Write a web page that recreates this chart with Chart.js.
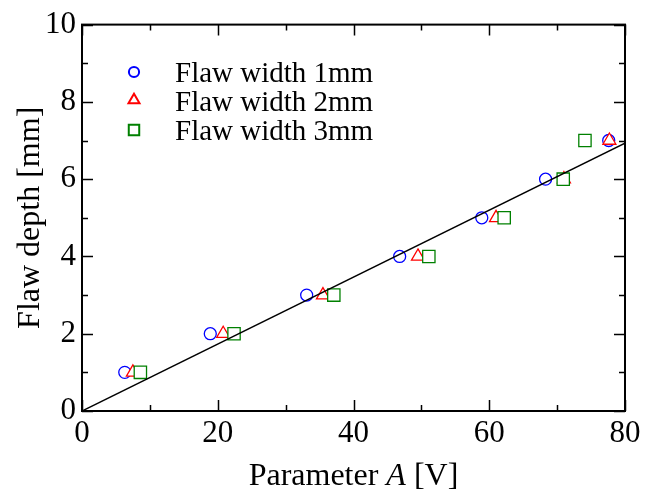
<!DOCTYPE html>
<html>
<head>
<meta charset="utf-8">
<script src="https://cdn.jsdelivr.net/npm/chart.js"></script>
<style>
  html, body { margin: 0; padding: 0; background: #fff; }
  #wrap { width: 659px; height: 495px; }
</style>
</head>
<body>
<div id="wrap"><canvas id="depth-chart"></canvas></div>
<script>
// values
const flawDepths = [1, 2, 3, 4, 5, 6, 7];
const width1mmA = [6.3, 18.9, 33.1, 46.8, 58.9, 68.3, 77.6];
const width2mmA = [7.5, 20.8, 35.5, 49.5, 61.0, 71.0, 77.7];
const width3mmA = [8.6, 22.4, 37.1, 51.1, 62.2, 70.9, 74.1];
const fitA = [0, 80];
const fitDepth = [0, 6.93];
const seriesLabels = ['Flaw width 1mm', 'Flaw width 2mm', 'Flaw width 3mm'];
const xTickValues = [0, 20, 40, 60, 80];
const yTickValues = [0, 2, 4, 6, 8, 10];

const serif = "'Liberation Serif', 'Times New Roman', serif";
const markerStyles = [
    { pointStyle: 'circle', radius: 6, color: '#0000ff' },
    { pointStyle: 'triangle', radius: 7.5, color: '#ff0000' },
    { pointStyle: 'rect', radius: 8.7, color: '#008000' },
];

function toPoints(xs, ys) {
    return xs.map((x, i) => ({ x: x, y: ys[i] }));
}

// frame, inward ticks on all four sides, legend and x title with italic A
const framePlugin = {
    id: 'frame',
    afterDraw(chart) {
        const ctx = chart.ctx;
        const area = chart.chartArea;
        const xs = chart.scales.x;
        const ys = chart.scales.y;
        ctx.save();
        ctx.strokeStyle = '#000';
        ctx.lineWidth = 1.5;
        for (let v = 0; v <= 80; v += 10) {
            const px = Math.round(xs.getPixelForValue(v)) + 0.5;
            const len = v % 20 === 0 ? 11 : 6;
            ctx.beginPath();
            ctx.moveTo(px, area.bottom); ctx.lineTo(px, area.bottom - len);
            ctx.moveTo(px, area.top); ctx.lineTo(px, area.top + len);
            ctx.stroke();
        }
        for (let v = 0; v <= 10; v += 1) {
            const py = Math.round(ys.getPixelForValue(v)) + 0.5;
            const len = v % 2 === 0 ? 11 : 6;
            ctx.beginPath();
            ctx.moveTo(area.left, py); ctx.lineTo(area.left + len, py);
            ctx.moveTo(area.right, py); ctx.lineTo(area.right - len, py);
            ctx.stroke();
        }
        ctx.lineWidth = 2;
        ctx.strokeRect(area.left, area.top, area.right - area.left, area.bottom - area.top);

        // legend
        ctx.textBaseline = 'alphabetic';
        ctx.textAlign = 'left';
        const markerYs = [72, 100, 130];
        seriesLabels.forEach((label, i) => {
            const m = markerStyles[i];
            ctx.strokeStyle = m.color;
            ctx.fillStyle = '#fff';
            Chart.helpers.drawPoint(ctx, {
                pointStyle: m.pointStyle,
                radius: m.radius * 0.85,
                rotation: 0,
                borderWidth: 1.3
            }, 134, markerYs[i]);
            ctx.font = '29px ' + serif;
            ctx.fillStyle = '#000';
            ctx.fillText(label, 175, 82 + i * 29);
        });

        // x title: Parameter A [V]
        const partA = 'Parameter ';
        const partB = 'A';
        const partC = ' [V]';
        ctx.fillStyle = '#000';
        ctx.font = '32px ' + serif;
        const wA = ctx.measureText(partA).width;
        const wC = ctx.measureText(partC).width;
        ctx.font = 'italic 32px ' + serif;
        const wB = ctx.measureText(partB).width;
        let tx = (area.left + area.right) / 2 - (wA + wB + wC) / 2;
        const ty = 485;
        ctx.font = '32px ' + serif;
        ctx.fillText(partA, tx, ty);
        tx += wA;
        ctx.font = 'italic 32px ' + serif;
        ctx.fillText(partB, tx, ty);
        tx += wB;
        ctx.font = '32px ' + serif;
        ctx.fillText(partC, tx, ty);
        ctx.restore();
    }
};

const ctx = document.getElementById('depth-chart').getContext('2d');
const depthChart = new Chart(ctx, {
    type: 'scatter',
    data: {
        datasets: [
            {
                label: seriesLabels[0],
                data: toPoints(width1mmA, flawDepths),
                pointStyle: 'circle',
                pointRadius: markerStyles[0].radius,
                borderColor: markerStyles[0].color,
                backgroundColor: '#fff',
                pointBorderWidth: 1.3,
                order: 3,
            },
            {
                label: seriesLabels[1],
                data: toPoints(width2mmA, flawDepths),
                pointStyle: 'triangle',
                pointRadius: markerStyles[1].radius,
                borderColor: markerStyles[1].color,
                backgroundColor: '#fff',
                pointBorderWidth: 1.3,
                order: 2,
            },
            {
                label: seriesLabels[2],
                data: toPoints(width3mmA, flawDepths),
                pointStyle: 'rect',
                pointRadius: markerStyles[2].radius,
                borderColor: markerStyles[2].color,
                backgroundColor: '#fff',
                pointBorderWidth: 1.3,
                order: 1,
            },
            {
                type: 'line',
                label: 'fit',
                data: toPoints(fitA, fitDepth),
                borderColor: '#000',
                borderWidth: 1.5,
                pointRadius: 0,
                fill: false,
                order: 0,
            },
        ],
    },
    options: {
        responsive: true,
        maintainAspectRatio: false,
        animation: false,
        layout: { padding: { top: 24, right: 34, left: 0, bottom: 0 } },
        plugins: {
            legend: { display: false },
            tooltip: { enabled: false },
        },
        scales: {
            x: {
                type: 'linear',
                min: 0,
                max: 80,
                afterBuildTicks: (scale) => { scale.ticks = xTickValues.map(v => ({ value: v })); },
                afterFit: (scale) => { scale.height = 84; },
                grid: { display: false, drawTicks: false },
                border: { display: false },
                ticks: {
                    color: '#000',
                    padding: 4,
                    maxRotation: 0,
                    font: { family: serif, size: 31 },
                },
                title: { display: false },
            },
            y: {
                type: 'linear',
                min: 0,
                max: 10,
                afterBuildTicks: (scale) => { scale.ticks = yTickValues.map(v => ({ value: v })); },
                afterFit: (scale) => { scale.width = 82; },
                grid: { display: false, drawTicks: false },
                border: { display: false },
                ticks: {
                    color: '#000',
                    padding: 6,
                    font: { family: serif, size: 31 },
                },
                title: {
                    display: true,
                    text: 'Flaw depth [mm]',
                    color: '#000',
                    padding: { top: 11, bottom: 0 },
                    font: { family: serif, size: 32 },
                },
            },
        },
    },
    plugins: [framePlugin],
});
</script>
</body>
</html>
